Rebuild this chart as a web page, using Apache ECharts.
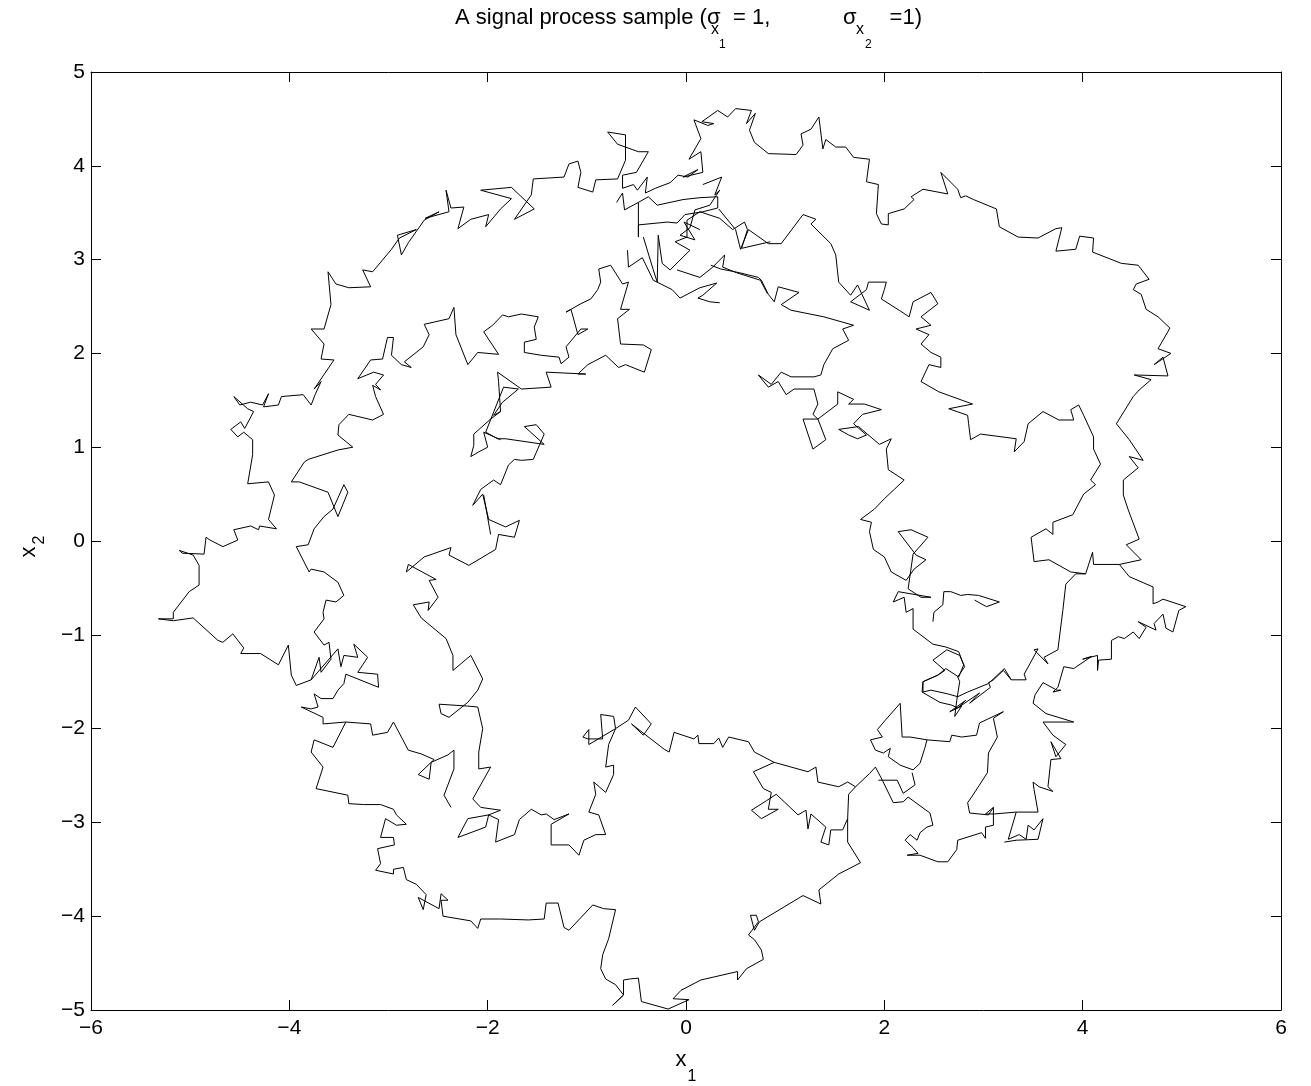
<!DOCTYPE html>
<html>
<head>
<meta charset="utf-8">
<script src="https://cdn.jsdelivr.net/npm/echarts@6/dist/echarts.min.js"></script>
<style>html,body{margin:0;padding:0;background:#fff}#chart{width:1311px;height:1086px}</style>
</head>
<body>
<div id="chart"></div>
<script>
// ---- axis ticks ----
var xTicks = [-6, -4, -2, 0, 2, 4, 6];
var yTicks = [-5, -4, -3, -2, -1, 0, 1, 2, 3, 4, 5];

// ---- sample path pieces [x1, x2] ----
var segA = [[-3.78,-1.48],[-3.93,-1.54],[-3.98,-1.43],[-4.01,-1.11],[-4.11,-1.32],[-4.29,-1.20],[-4.49,-1.20],[-4.46,-1.14],[-4.57,-0.99],[-4.67,-1.08],[-4.72,-1.06],[-4.97,-0.82],[-5.17,-0.85],[-5.32,-0.83],[-5.17,-0.83],[-5.17,-0.76],[-5.01,-0.54],[-4.91,-0.47],[-4.91,-0.26],[-4.97,-0.15],[-5.11,-0.10],[-5.08,-0.13],[-4.86,-0.14],[-4.84,0.04],[-4.80,0.01],[-4.67,-0.06],[-4.52,0.01],[-4.56,0.12],[-4.39,0.16],[-4.31,0.12],[-4.30,0.16],[-4.13,0.13],[-4.21,0.23],[-4.15,0.49],[-4.21,0.63],[-4.42,0.61],[-4.37,0.92],[-4.37,1.08],[-4.46,1.16],[-4.52,1.11],[-4.59,1.19],[-4.49,1.27],[-4.45,1.20],[-4.36,1.38],[-4.42,1.41],[-4.56,1.54],[-4.50,1.45],[-4.39,1.48],[-4.27,1.45],[-4.21,1.57],[-4.26,1.43],[-4.11,1.45],[-4.08,1.54],[-3.86,1.56],[-3.78,1.45],[-3.74,1.56],[-3.68,1.70],[-3.75,1.62],[-3.55,1.93],[-3.68,1.94],[-3.65,2.10],[-3.78,2.26],[-3.65,2.26],[-3.58,2.52],[-3.61,2.87],[-3.53,2.74],[-3.40,2.70],[-3.18,2.71],[-3.26,2.89],[-3.16,2.87],[-2.97,3.11],[-2.89,3.23],[-2.72,3.32],[-2.91,3.26],[-2.87,3.05],[-2.80,3.18],[-2.64,3.42],[-2.49,3.51],[-2.63,3.44],[-2.39,3.51],[-2.42,3.74],[-2.37,3.55],[-2.24,3.56],[-2.30,3.33],[-2.17,3.43],[-1.99,3.48],[-2.02,3.35],[-1.87,3.54],[-1.76,3.65],[-2.07,3.74],[-1.76,3.77],[-1.53,3.54],[-1.73,3.43],[-1.56,3.69],[-1.54,3.86],[-1.23,3.88],[-1.18,4.02],[-1.09,4.05],[-1.06,3.93],[-1.09,3.77],[-0.94,3.72],[-0.91,3.85],[-0.69,3.86],[-0.61,4.06],[-0.61,4.33],[-0.79,4.36],[-0.69,4.23],[-0.48,4.15],[-0.38,4.15],[-0.50,3.93]];
var segB = [[-0.50,3.93],[-0.64,3.90],[-0.64,3.76],[-0.53,3.80],[-0.49,3.74],[-0.39,3.88],[-0.41,3.71],[-0.31,3.76],[-0.16,3.82],[-0.08,3.90],[0.02,3.88],[0.12,3.96],[-0.03,3.88]];
var segB2 = [[-0.70,3.61],[-0.64,3.71],[-0.62,3.53],[-0.48,3.61],[-0.38,3.67],[-0.29,3.58],[-0.03,3.64],[0.14,3.66],[0.32,3.67],[0.32,3.55],[0.17,3.51],[-0.01,3.48],[-0.09,3.39],[-0.19,3.40],[-0.48,3.37],[-0.48,3.24],[-0.48,3.61]];
var segB3 = [[-0.43,3.24],[-0.33,2.89],[-0.29,2.76],[-0.28,3.26],[-0.24,2.96],[-0.16,2.89],[0.04,3.10],[-0.11,3.19],[0.01,3.24],[0.01,3.42],[0.14,3.51],[0.34,3.44],[0.47,3.32],[0.59,3.40],[0.62,3.32],[0.56,3.12],[0.85,3.19]];
var segB4 = [[-0.59,3.10],[-0.58,2.92],[-0.44,3.02],[-0.33,2.78],[-0.14,2.68],[-0.06,2.59],[0.14,2.70],[0.31,2.75],[0.17,2.62],[0.12,2.59],[0.24,2.55],[0.34,2.54]];
var segB5 = [[-0.09,2.89],[0.14,2.81],[0.27,2.92],[0.39,3.05],[0.37,2.92],[0.51,2.86],[0.75,2.78],[0.82,2.64]];
var segB6 = [[0.17,3.80],[0.36,3.88],[0.29,3.69],[0.34,3.74],[0.24,3.58],[0.09,3.53],[0.04,3.34],[-0.06,3.26],[0.09,3.21],[-0.02,3.40],[0.14,3.32]];
var segC = [[-0.03,3.88],[0.17,3.93],[0.15,4.15],[0.03,4.07],[0.15,4.29],[0.08,4.49],[0.22,4.43],[0.28,4.45],[0.16,4.47],[0.32,4.59],[0.42,4.52],[0.50,4.61],[0.66,4.59],[0.61,4.45],[0.70,4.56],[0.64,4.38],[0.69,4.25],[0.83,4.13],[1.11,4.12],[1.18,4.22],[1.16,4.34],[1.26,4.39],[1.34,4.52],[1.38,4.18],[1.41,4.28],[1.51,4.20],[1.61,4.20],[1.69,4.09],[1.85,4.07],[1.82,3.83],[1.94,3.80],[1.92,3.49],[1.97,3.38],[2.04,3.37],[2.04,3.49],[2.20,3.54],[2.30,3.64],[2.27,3.67],[2.39,3.75],[2.64,3.70],[2.57,3.93],[2.74,3.75],[2.77,3.66],[2.82,3.68],[2.90,3.64],[3.13,3.54],[3.16,3.35],[3.35,3.24],[3.55,3.23],[3.73,3.33],[3.79,3.34],[3.73,3.09],[3.93,3.11],[3.97,3.25],[4.11,3.23],[4.10,3.08],[4.39,2.96],[4.56,2.94],[4.67,2.79],[4.54,2.74],[4.51,2.68],[4.59,2.63],[4.64,2.47],[4.76,2.39],[4.88,2.27],[4.76,2.05],[4.89,2.00],[4.72,1.88],[4.81,1.96],[4.86,1.76],[4.52,1.77],[4.69,1.72],[4.57,1.61],[4.51,1.54],[4.34,1.25],[4.47,1.08],[4.61,0.86],[4.47,0.90],[4.56,0.78],[4.41,0.65],[4.41,0.49],[4.46,0.33],[4.57,0.02],[4.44,-0.04],[4.59,-0.20]];
var segD = [[0.33,3.54],[0.50,3.32],[0.55,3.11],[0.63,3.32],[0.83,3.17],[0.96,3.17],[1.18,3.48],[1.31,3.43],[1.26,3.38],[1.46,3.17],[1.51,3.05],[1.54,2.76],[1.66,2.62],[1.73,2.73],[1.85,2.46],[1.66,2.55],[1.82,2.68],[1.84,2.76],[2.02,2.76],[2.00,2.68],[1.97,2.58],[2.15,2.46],[2.25,2.39],[2.29,2.55],[2.47,2.65],[2.54,2.53],[2.37,2.39],[2.47,2.30],[2.32,2.26],[2.45,2.20],[2.37,2.10],[2.47,2.01],[2.57,1.96],[2.57,1.85],[2.45,1.88],[2.37,1.70],[2.55,1.59],[2.89,1.46],[2.65,1.41],[2.84,1.34],[2.85,1.25],[2.87,1.08],[2.97,1.14],[3.33,1.09],[3.31,0.95],[3.41,1.06],[3.45,1.25],[3.60,1.38],[3.76,1.29],[3.91,1.29],[3.88,1.40],[3.96,1.45],[4.01,1.34],[4.11,1.11],[4.11,0.98],[4.18,0.82],[4.08,0.65],[4.13,0.60],[4.01,0.50],[3.90,0.28],[3.70,0.20],[3.70,0.07],[3.63,0.13],[3.48,0.04],[3.51,-0.22],[3.66,-0.20],[3.88,-0.33],[4.03,-0.35],[4.10,-0.12],[4.11,-0.25],[4.37,-0.25],[4.59,-0.20]];
var segE = [[4.37,-0.25],[4.47,-0.38],[4.71,-0.49],[4.71,-0.67],[4.76,-0.65],[4.81,-0.62],[5.04,-0.70],[4.97,-0.74],[4.91,-0.97],[4.84,-0.93],[4.81,-0.78],[4.72,-0.88],[4.74,-0.95],[4.56,-0.86],[4.64,-0.92],[4.57,-1.04],[4.51,-0.97],[4.42,-1.04],[4.36,-1.02],[4.29,-1.06],[4.29,-1.26],[4.16,-1.27],[4.15,-1.38],[4.15,-1.22],[4.00,-1.26],[4.09,-1.23],[3.91,-1.36],[3.81,-1.34],[3.75,-1.56],[3.70,-1.61],[3.78,-1.59]];
var segF = [[4.03,-0.35],[3.93,-0.35],[3.83,-0.46],[3.80,-0.74],[3.75,-1.16],[3.61,-1.24],[3.65,-1.31],[3.51,-1.16],[3.55,-1.15],[3.41,-1.42],[3.43,-1.48],[3.28,-1.48],[3.20,-1.38],[3.10,-1.48],[3.05,-1.51],[3.07,-1.56],[2.86,-1.73],[2.96,-1.62],[2.74,-1.78],[2.82,-1.70],[2.66,-1.82],[2.78,-1.76],[2.71,-1.87],[2.73,-1.70],[2.76,-1.50],[2.74,-1.45],[2.81,-1.34],[2.76,-1.22],[2.63,-1.16],[2.49,-1.27],[2.61,-1.38],[2.54,-1.43],[2.39,-1.50],[2.38,-1.61],[2.56,-1.72],[2.68,-1.75],[2.74,-1.78]];
var segG = [[1.85,-2.48],[1.91,-2.41],[1.98,-2.55],[2.09,-2.79],[2.19,-2.78],[2.24,-2.73],[2.46,-2.90],[2.49,-3.03],[2.43,-3.05],[2.36,-3.11],[2.33,-3.19],[2.26,-3.13],[2.21,-3.19],[2.29,-3.27],[2.34,-3.33],[2.23,-3.35],[2.36,-3.35],[2.54,-3.42],[2.64,-3.42],[2.73,-3.29],[2.74,-3.19],[2.98,-3.11],[3.02,-3.17],[3.02,-3.05],[3.10,-3.03],[3.10,-2.84],[3.05,-2.92],[2.86,-2.90],[2.84,-2.79],[2.88,-2.73],[3.04,-2.47],[3.05,-2.26],[3.14,-2.09],[3.10,-1.89],[3.20,-1.82],[2.96,-1.94],[2.93,-2.07],[2.78,-2.09],[2.68,-2.07],[2.66,-2.14],[2.43,-2.12],[2.26,-2.09],[2.18,-2.09],[2.16,-1.73],[2.01,-1.91],[1.93,-2.01],[1.98,-2.09],[1.86,-2.12],[1.91,-2.23],[1.99,-2.26],[2.06,-2.21],[2.04,-2.30],[2.16,-2.39],[2.29,-2.44],[2.36,-2.37],[2.41,-2.20],[2.43,-2.12]];
var segG2 = [[1.94,-2.55],[2.13,-2.55],[2.19,-2.69],[2.31,-2.60],[2.28,-2.47]];
var segH = [[3.78,-1.59],[3.74,-1.59],[3.60,-1.51],[3.52,-1.64],[3.50,-1.73],[3.63,-1.84],[3.91,-1.93],[3.60,-1.93],[3.70,-2.07],[3.83,-2.17],[3.73,-2.30],[3.68,-2.14],[3.78,-2.32],[3.68,-2.33],[3.65,-2.62],[3.70,-2.67],[3.56,-2.62],[3.50,-2.57],[3.51,-2.65],[3.55,-2.89],[3.33,-2.89],[3.25,-3.18],[3.36,-3.13],[3.43,-3.18],[3.45,-3.03],[3.51,-3.08],[3.60,-2.96],[3.55,-3.18],[3.33,-3.19],[3.21,-3.21]];
var segH2 = [[3.33,-2.89],[3.11,-2.91],[3.02,-2.91],[3.10,-2.84]];
var segI = [[0.25,2.94],[0.35,2.90],[0.54,2.86],[0.73,2.81],[0.76,2.78],[0.83,2.63],[0.89,2.55],[0.93,2.71],[1.14,2.65],[0.96,2.52],[1.06,2.46],[1.39,2.39],[1.69,2.30],[1.58,2.26],[1.64,2.14],[1.48,2.05],[1.39,1.88],[1.36,1.77],[1.29,1.75],[1.11,1.75],[1.06,1.75],[0.96,1.80],[0.86,1.67],[0.73,1.77],[0.83,1.64],[0.93,1.70],[1.01,1.56],[1.09,1.62],[1.29,1.62],[1.33,1.46],[1.28,1.35],[1.33,1.30],[1.18,1.30],[1.23,1.14],[1.28,0.98],[1.41,1.08],[1.33,1.30],[1.53,1.46],[1.53,1.59],[1.69,1.51],[1.64,1.46],[1.80,1.46],[1.97,1.40],[1.78,1.35],[1.69,1.25],[1.82,1.13],[1.73,1.09],[1.64,1.13],[1.54,1.19],[1.74,1.22],[1.95,1.03],[2.07,1.09],[2.02,0.98],[2.04,0.76],[2.20,0.65],[2.10,0.55],[2.00,0.45],[1.90,0.34],[1.76,0.23],[1.87,0.20],[1.85,0.10],[1.89,-0.09],[2.00,-0.17],[2.07,-0.33],[2.22,-0.42],[2.30,-0.30],[2.42,-0.20],[2.32,-0.15],[2.14,0.10],[2.27,0.12],[2.44,0.04],[2.29,-0.14],[2.24,-0.51],[2.37,-0.60],[2.47,-0.60],[2.14,-0.54],[2.09,-0.65],[2.20,-0.60],[2.22,-0.76],[2.29,-0.72],[2.29,-0.94],[2.49,-1.10],[2.62,-1.13],[2.75,-1.18],[2.80,-1.32],[2.75,-1.45],[2.62,-1.36],[2.54,-1.43],[2.39,-1.50],[2.39,-1.61],[2.47,-1.59],[2.64,-1.63],[2.74,-1.66],[2.84,-1.61],[3.05,-1.52],[3.21,-1.36],[3.28,-1.48]];
var segI2 = [[2.49,-0.86],[2.50,-0.76],[2.59,-0.68],[2.60,-0.54],[2.67,-0.54],[2.77,-0.58],[2.84,-0.57],[2.95,-0.58],[3.16,-0.65],[3.03,-0.70],[2.91,-0.63]];
var segM0 = [[-2.34,2.49],[-2.39,2.37],[-2.64,2.31],[-2.59,2.20],[-2.65,2.07],[-2.84,1.91],[-2.77,1.85],[-2.87,1.88],[-2.97,1.98],[-2.95,2.17],[-3.01,2.17],[-3.06,1.94],[-3.18,1.93],[-3.31,1.73],[-3.15,1.80],[-3.05,1.77],[-3.13,1.67],[-3.08,1.61],[-3.16,1.66],[-3.13,1.54],[-3.05,1.35],[-3.16,1.29],[-3.40,1.35],[-3.50,1.24],[-3.51,1.13],[-3.36,1.00],[-3.51,0.97],[-3.81,0.87],[-3.85,0.84],[-3.98,0.63],[-3.90,0.63],[-3.61,0.52],[-3.51,0.26],[-3.41,0.52],[-3.45,0.60],[-3.56,0.34],[-3.65,0.26],[-3.75,0.13],[-3.81,-0.04],[-3.93,-0.06],[-3.80,-0.33],[-3.78,-0.30],[-3.65,-0.33],[-3.51,-0.44],[-3.45,-0.58],[-3.53,-0.65],[-3.63,-0.63],[-3.66,-0.76],[-3.65,-0.83],[-3.75,-0.97],[-3.65,-1.11],[-3.60,-1.08],[-3.58,-1.26],[-3.68,-1.40],[-3.70,-1.24],[-3.78,-1.48]];
var segM = [[-2.34,2.49],[-2.32,2.20],[-2.20,1.88],[-2.10,2.01],[-1.89,1.99],[-2.04,2.23],[-1.95,2.30],[-1.85,2.41],[-1.79,2.39],[-1.66,2.42],[-1.49,2.39],[-1.53,2.28],[-1.51,2.15],[-1.63,2.12],[-1.63,2.01],[-1.46,1.98],[-1.28,1.96],[-1.26,1.89],[-1.18,1.96],[-1.21,2.07],[-1.06,2.26],[-0.99,2.26],[-1.09,2.20],[-1.16,2.47],[-1.21,2.44],[-1.06,2.53],[-0.96,2.58],[-0.89,2.68],[-0.86,2.76],[-0.88,2.90],[-0.76,2.94],[-0.64,2.74],[-0.58,2.76]];
var segN = [[-0.58,2.76],[-0.66,2.47],[-0.57,2.47],[-0.69,2.37],[-0.66,2.10],[-0.43,2.09],[-0.35,2.04],[-0.42,1.80],[-0.61,1.88],[-0.68,1.85],[-0.81,1.98],[-0.99,1.88],[-1.09,1.78],[-1.01,1.78],[-1.41,1.80],[-1.36,1.64],[-1.66,1.62],[-1.90,1.80],[-1.89,1.70],[-1.87,1.38],[-1.94,1.34],[-1.85,1.48],[-1.69,1.62],[-1.84,1.64],[-2.02,1.16],[-1.90,1.09],[-1.82,1.09],[-1.43,1.03],[-1.63,1.22],[-1.51,1.24],[-1.43,1.14],[-1.54,0.87],[-1.66,0.86],[-1.73,0.87],[-1.79,0.81],[-1.87,0.60],[-1.94,0.65],[-2.07,0.55],[-2.15,0.38],[-2.05,0.50],[-1.99,0.23],[-1.82,0.15],[-1.68,0.22],[-1.73,0.04],[-1.89,0.07],[-1.92,-0.09],[-2.19,-0.26],[-2.39,-0.15],[-2.37,-0.07],[-2.64,-0.17],[-2.82,-0.33],[-2.80,-0.25],[-2.52,-0.41],[-2.59,-0.42],[-2.50,-0.60],[-2.60,-0.74],[-2.59,-0.65],[-2.75,-0.68],[-2.67,-0.82],[-2.42,-1.04],[-2.35,-1.22],[-2.35,-1.38],[-2.17,-1.22],[-2.05,-1.47],[-2.10,-1.59],[-2.20,-1.72],[-2.39,-1.88],[-2.47,-1.84],[-2.49,-1.74],[-2.20,-1.76],[-2.10,-1.77],[-2.05,-2.00],[-2.09,-2.25],[-2.09,-2.43],[-1.97,-2.41],[-2.15,-2.75],[-2.07,-2.84],[-1.87,-2.87],[-1.99,-2.92],[-2.02,-3.05],[-2.30,-3.16],[-2.20,-2.96],[-1.99,-2.92],[-1.89,-2.97],[-1.92,-3.21],[-1.73,-3.13],[-1.68,-2.97],[-1.56,-2.86],[-1.46,-2.92],[-1.41,-2.91],[-1.33,-2.97],[-1.18,-2.91],[-1.36,-3.02],[-1.36,-3.24],[-1.18,-3.24],[-1.08,-3.35],[-1.03,-3.19],[-0.91,-3.13],[-0.81,-3.13],[-0.88,-2.92],[-0.98,-2.89],[-0.91,-2.70],[-0.93,-2.57],[-0.81,-2.68],[-0.73,-2.49],[-0.73,-2.39],[-0.81,-2.41],[-0.78,-2.17],[-0.71,-2.00],[-0.73,-1.87],[-0.86,-1.85],[-0.84,-2.11],[-0.99,-2.11],[-1.04,-2.09],[-0.98,-2.01],[-0.98,-2.17],[-0.71,-2.00],[-0.58,-1.91],[-0.51,-1.77],[-0.35,-1.95],[-0.43,-2.07],[-0.55,-1.95],[-0.22,-2.22],[-0.17,-2.25],[-0.12,-2.04],[0.08,-2.11],[0.12,-2.07],[0.13,-2.16],[0.28,-2.16],[0.33,-2.10],[0.37,-2.20],[0.43,-2.09],[0.63,-2.14],[0.69,-2.25],[0.89,-2.36],[1.23,-2.46],[1.31,-2.41],[1.33,-2.57],[1.54,-2.62],[1.63,-2.57],[1.71,-2.62],[1.85,-2.48]];
var segBL = [[-3.78,-1.48],[-3.51,-1.15],[-3.48,-1.34],[-3.45,-1.22],[-3.31,-1.24],[-3.35,-1.10],[-3.21,-1.24],[-3.31,-1.40],[-3.11,-1.42],[-3.10,-1.56],[-3.43,-1.42],[-3.45,-1.52],[-3.51,-1.59],[-3.56,-1.68],[-3.68,-1.68],[-3.75,-1.63],[-3.75,-1.61],[-3.71,-1.77],[-3.78,-1.79],[-3.88,-1.77],[-3.66,-1.88],[-3.66,-1.95],[-3.43,-1.93]];
var segO = [[-3.43,-1.93],[-3.56,-2.20],[-3.75,-2.12],[-3.78,-2.25],[-3.66,-2.41],[-3.73,-2.64],[-3.41,-2.71],[-3.40,-2.80],[-3.25,-2.81],[-3.08,-2.81],[-2.95,-2.86],[-2.92,-2.92],[-2.82,-3.02],[-2.92,-3.03],[-3.03,-2.96],[-3.08,-3.16],[-2.95,-3.16],[-2.94,-3.24],[-3.11,-3.28],[-3.08,-3.44],[-3.13,-3.51],[-2.95,-3.55],[-2.95,-3.50],[-2.85,-3.48],[-2.82,-3.61],[-2.72,-3.66],[-2.62,-3.77],[-2.65,-3.93],[-2.70,-3.80],[-2.49,-3.92],[-2.47,-3.76],[-2.40,-3.83],[-2.47,-3.83],[-2.45,-4.00],[-2.17,-4.05],[-2.10,-4.13],[-2.07,-4.03],[-1.87,-4.03],[-1.59,-4.04],[-1.43,-4.03],[-1.41,-3.86],[-1.29,-3.86],[-1.23,-4.12],[-1.18,-4.15],[-0.94,-3.88],[-0.83,-3.92],[-0.71,-3.93],[-0.78,-4.24],[-0.84,-4.41],[-0.86,-4.56],[-0.81,-4.67],[-0.71,-4.73],[-0.63,-4.84],[-0.74,-4.95],[-0.63,-4.84],[-0.63,-4.68],[-0.57,-4.67],[-0.48,-4.66],[-0.45,-4.91],[-0.18,-4.99],[0.03,-4.89],[-0.13,-4.88],[-0.05,-4.79],[0.15,-4.68],[0.52,-4.59],[0.52,-4.68],[0.61,-4.56],[0.78,-4.46],[0.76,-4.36],[0.69,-4.25],[0.63,-4.20],[0.73,-4.06],[0.71,-3.99],[0.65,-3.99],[0.69,-4.15],[0.74,-4.06],[1.18,-3.78],[1.36,-3.87],[1.34,-3.72],[1.54,-3.55],[1.76,-3.43],[1.63,-3.21],[1.63,-2.96],[1.64,-2.70],[1.71,-2.62]];
var segK = [[-3.43,-1.93],[-3.18,-1.95],[-3.16,-2.07],[-3.01,-2.04],[-2.95,-1.93],[-2.80,-2.23],[-2.67,-2.27],[-2.54,-2.33],[-2.70,-2.49],[-2.59,-2.54],[-2.57,-2.36],[-2.40,-2.28],[-2.34,-2.23],[-2.34,-2.43],[-2.44,-2.71],[-2.37,-2.84]];
var segP = [[0.89,-2.36],[0.68,-2.46],[0.78,-2.64],[0.86,-2.68],[0.83,-2.86],[0.93,-2.86],[0.76,-2.96],[0.66,-2.87],[0.81,-2.77],[0.91,-2.70],[0.99,-2.78],[1.13,-2.92],[1.21,-2.87],[1.23,-3.07],[1.26,-2.91],[1.41,-3.05],[1.36,-3.21],[1.44,-3.24],[1.46,-3.08],[1.58,-3.08],[1.63,-2.96]];
var segQ = [[-1.87,1.38],[-1.97,1.30],[-2.14,1.14],[-2.14,1.02],[-2.17,0.90],[-2.09,0.95],[-2.00,1.00],[-2.04,1.16],[-1.87,1.08]];
var segQ2 = [[-2.04,0.49],[-1.97,0.07]];

var pathPieces = [segA, segB, segB2, segB3, segB4, segB5, segB6, segC, segD, segE, segF, segG, segG2, segH, segH2, segI, segI2, segM0, segM, segN, segBL, segO, segK, segP, segQ, segQ2];

// ---- text ----
var FONT = '"Liberation Sans", Arial, Helvetica, sans-serif';

// title pieces: [text, left x, middle y, font size]
var titlePieces = [
  ['A signal process sample (\u03c3', 455, 18, 22],
  ['x', 711, 30, 16],
  ['1', 719, 45, 12],
  ['= 1,', 733, 18, 22],
  ['\u03c3', 843, 18, 22],
  ['x', 856, 30, 16],
  ['2', 865, 45, 12],
  ['=1)', 922, 18, 22]
];

function txt(t, x, y, size, align, rot) {
  var e = { type: 'text', x: x, y: y, silent: true,
    style: { text: t, fill: '#000', font: size + 'px ' + FONT,
      textAlign: align, textVerticalAlign: 'middle', align: align, verticalAlign: 'middle' } };
  if (rot) e.rotation = rot;
  return e;
}

var graphics = titlePieces.map(function (p, i) {
  return txt(p[0], p[1], p[2], p[3], i === titlePieces.length - 1 ? 'right' : 'left');
});
graphics.push(txt('x', 681, 1060, 22, 'center'));
graphics.push(txt('1', 692, 1077, 16, 'center'));
graphics.push(txt('x', 29, 552, 22, 'center', Math.PI / 2));
graphics.push(txt('2', 40, 540, 16, 'center', Math.PI / 2));

function fmt(v) { return String(v).replace('-', '\u2212'); }

var axisLineStyle = { color: '#000', width: 1 };
function baseAxis(min, max, interval, pos, showLabel, margin) {
  return {
    type: 'value', min: min, max: max, interval: interval, position: pos,
    axisLine: { show: true, onZero: false, lineStyle: axisLineStyle },
    axisTick: { show: true, inside: true, length: 10, lineStyle: axisLineStyle },
    splitLine: { show: false },
    axisLabel: { show: showLabel, color: '#000', fontSize: 21, fontFamily: FONT, margin: margin, formatter: fmt }
  };
}

var series = pathPieces.map(function (seg) {
  return {
    type: 'line', data: seg, showSymbol: false, symbol: 'none', silent: true,
    xAxisIndex: 0, yAxisIndex: 0, animation: false,
    lineStyle: { color: '#000', width: 1 }
  };
});

var chart = echarts.init(document.getElementById('chart'), null, { renderer: 'canvas' });
chart.setOption({
  backgroundColor: '#fff',
  animation: false,
  grid: { left: 91, right: 30, top: 72, bottom: 76, containLabel: false },
  xAxis: [baseAxis(xTicks[0], xTicks[xTicks.length - 1], 2, 'bottom', true, 8),
          baseAxis(xTicks[0], xTicks[xTicks.length - 1], 2, 'top', false, 8)],
  yAxis: [baseAxis(yTicks[0], yTicks[yTicks.length - 1], 1, 'left', true, 6),
          baseAxis(yTicks[0], yTicks[yTicks.length - 1], 1, 'right', false, 6)],
  graphic: graphics,
  series: series
});
</script>
</body>
</html>
